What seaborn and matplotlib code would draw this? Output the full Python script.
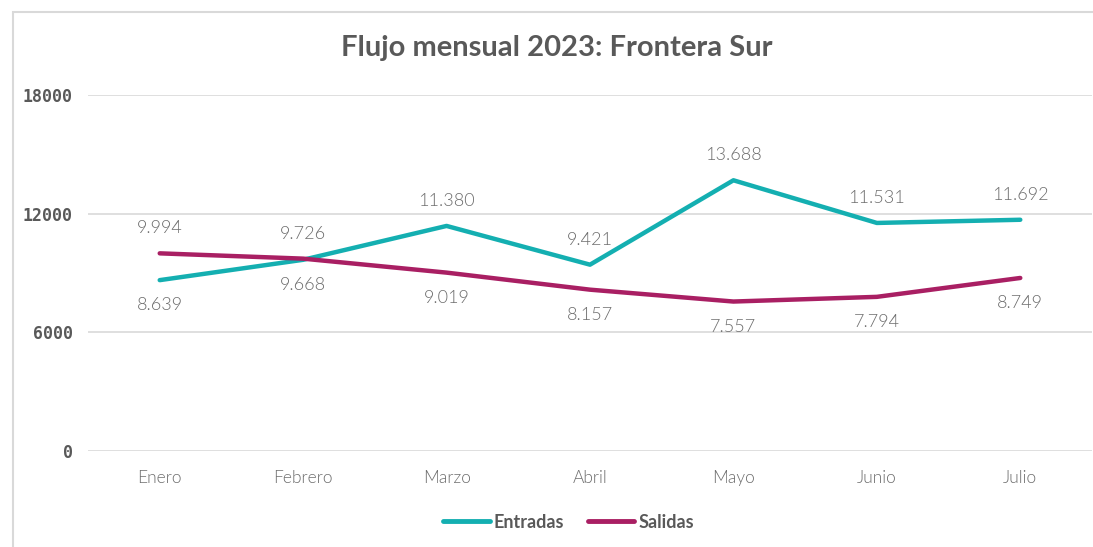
import matplotlib
matplotlib.use("Agg")
import matplotlib.pyplot as plt
from matplotlib.patches import Rectangle
from matplotlib.lines import Line2D
import seaborn as sns
import pandas as pd

meses = ["Enero", "Febrero", "Marzo", "Abril", "Mayo", "Junio", "Julio"]
entradas = [8639, 9668, 11380, 9421, 13688, 11531, 11692]
salidas = [9994, 9726, 9019, 8157, 7557, 7794, 8749]
y_ticks = [0, 6000, 12000, 18000]

color_ent = "#14AFB1"
color_sal = "#A91F63"
gris_txt = "#595959"
gris_lbl = "#6e6e6e"

df = pd.DataFrame(
    {
        "mes": meses * 2,
        "valor": entradas + salidas,
        "serie": ["Entradas"] * len(meses) + ["Salidas"] * len(meses),
    }
)

sns.set_style("white")
plt.rcParams["font.family"] = ["Lato", "DejaVu Sans"]

fig = plt.figure(figsize=(10.93, 5.47), dpi=100)
ax = fig.add_axes([88 / 1093, 1 - 451 / 547, (1092 - 88) / 1093, (451 - 95) / 547])

sns.lineplot(
    data=df,
    x="mes",
    y="valor",
    hue="serie",
    palette={"Entradas": color_ent, "Salidas": color_sal},
    linewidth=3.2,
    sort=False,
    ax=ax,
    legend=False,
)
for ln in ax.lines:
    ln.set_solid_capstyle("round")
    ln.set_solid_joinstyle("round")

ax.set_xlim(-0.5, len(meses) - 0.5)
ax.set_ylim(0, 18000)
ax.set_yticks(y_ticks)
ax.set_yticklabels([str(t) for t in y_ticks], family="DejaVu Sans Mono",
                   fontweight="bold", fontsize=12, color=gris_txt)
ax.set_xticks(range(len(meses)))
ax.set_xticklabels(meses, fontsize=12.5, color=gris_lbl, fontweight=300)
ax.tick_params(axis="y", length=0, pad=11)
ax.tick_params(axis="x", length=0, pad=14)
ax.set_xlabel("")
ax.set_ylabel("")
ax.grid(axis="y", color="#d9d9d9", linewidth=1.2)
ax.set_axisbelow(True)
for s in ax.spines.values():
    s.set_visible(False)


def fmt(v):
    return f"{v:,}".replace(",", ".")


for i in range(len(meses)):
    for val, otro in ((entradas[i], salidas[i]), (salidas[i], entradas[i])):
        dy = 18 if val >= otro else -18
        ax.annotate(
            fmt(val),
            (i, val),
            xytext=(0, dy),
            textcoords="offset points",
            ha="center",
            va="center",
            fontsize=13,
            fontweight=300,
            color=gris_lbl,
        )

fig.text(0.509, 1 - 48 / 547, "Flujo mensual 2023: Frontera Sur",
         ha="center", va="center", fontsize=21, fontweight="bold", color=gris_txt)

handles = [
    Line2D([0], [0], color=color_ent, linewidth=3.5, solid_capstyle="round", label="Entradas"),
    Line2D([0], [0], color=color_sal, linewidth=3.5, solid_capstyle="round", label="Salidas"),
]
leg = fig.legend(
    handles=handles,
    loc="center",
    bbox_to_anchor=(0.52, 1 - 522 / 547),
    ncol=2,
    frameon=False,
    handlelength=2.6,
    handletextpad=0.2,
    columnspacing=1.3,
    prop={"weight": "bold", "size": 13},
)
for t in leg.get_texts():
    t.set_color(gris_txt)

fig.patches.append(
    Rectangle((13 / 1093, -0.1), 1.2, 1 - 12 / 547 + 0.1, transform=fig.transFigure,
              fill=False, edgecolor="#d9d9d9", linewidth=1.5)
)

fig.savefig("out.png", dpi=100)
